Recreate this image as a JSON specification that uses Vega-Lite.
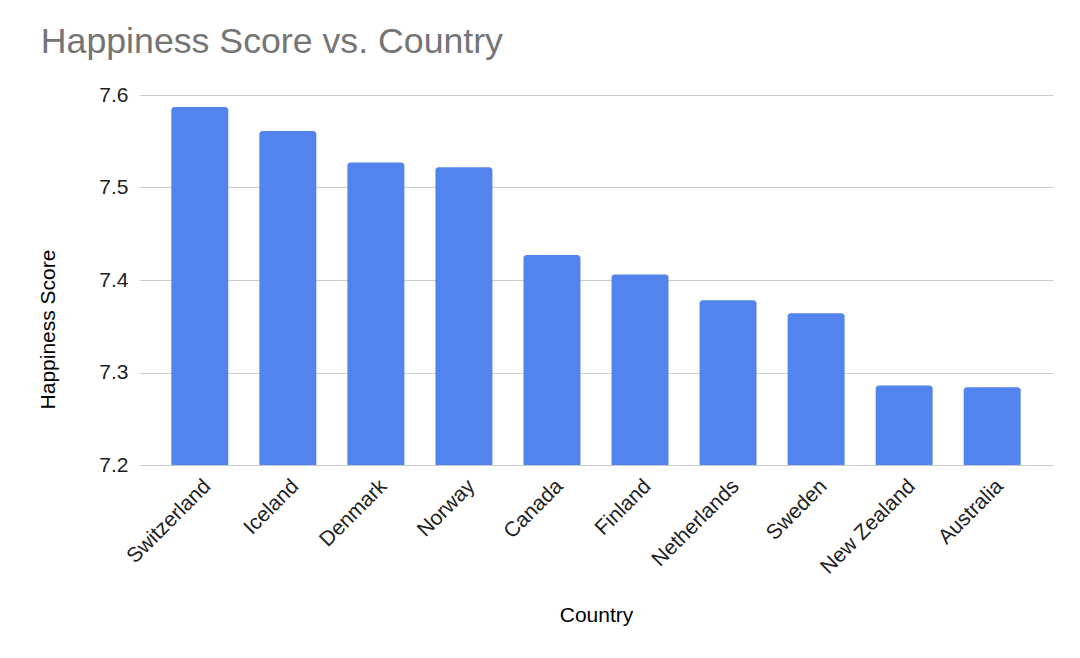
{
  "$schema": "https://vega.github.io/schema/vega-lite/v6.json",
  "width": 914,
  "height": 370,
  "autosize": {"type": "none"},
  "padding": {"left": 139, "top": 95, "right": 27, "bottom": 193},
  "background": "white",
  "config": {
    "font": "Liberation Sans",
    "view": {"stroke": null},
    "axis": {"labelFont": "Liberation Sans", "titleFont": "Liberation Sans"}
  },
  "title": {
    "text": "Happiness Score vs. Country",
    "anchor": "start",
    "frame": "bounds",
    "fontSize": 35.7,
    "fontWeight": "normal",
    "color": "#757575",
    "dx": 3,
    "offset": 23
  },
  "data": {
    "values": [
      {"Country": "Switzerland", "Score": 7.587},
      {"Country": "Iceland", "Score": 7.561},
      {"Country": "Denmark", "Score": 7.527},
      {"Country": "Norway", "Score": 7.522},
      {"Country": "Canada", "Score": 7.427},
      {"Country": "Finland", "Score": 7.406},
      {"Country": "Netherlands", "Score": 7.378},
      {"Country": "Sweden", "Score": 7.364},
      {"Country": "New Zealand", "Score": 7.286},
      {"Country": "Australia", "Score": 7.284}
    ]
  },
  "mark": {"type": "bar", "color": "#5383EC", "cornerRadiusTopLeft": 3, "cornerRadiusTopRight": 3},
  "encoding": {
    "x": {
      "field": "Country",
      "type": "nominal",
      "sort": null,
      "scale": {"paddingInner": 0.353, "paddingOuter": 0.367},
      "axis": {
        "title": "Country",
        "titleFontSize": 21,
        "titleFontWeight": "normal",
        "titleColor": "#000000",
        "titlePadding": 27,
        "labelAngle": -45,
        "labelFontSize": 21,
        "labelColor": "#222222",
        "labelPadding": 10,
        "labelOffset": 0,
        "ticks": false,
        "domain": false,
        "grid": false
      }
    },
    "y": {
      "field": "Score",
      "type": "quantitative",
      "scale": {"domain": [7.2, 7.6], "zero": false, "nice": false},
      "axis": {
        "title": "Happiness Score",
        "titleFontSize": 21,
        "titleFontWeight": "normal",
        "titleColor": "#000000",
        "titlePadding": 40,
        "titleY": 234,
        "values": [7.2, 7.3, 7.4, 7.5, 7.6],
        "format": ".1f",
        "labelFontSize": 21,
        "labelColor": "#222222",
        "labelPadding": 11,
        "ticks": false,
        "domain": false,
        "grid": true,
        "gridColor": "#CCCCCC",
        "gridWidth": 1
      }
    },
    "y2": {"datum": 7.2}
  }
}
